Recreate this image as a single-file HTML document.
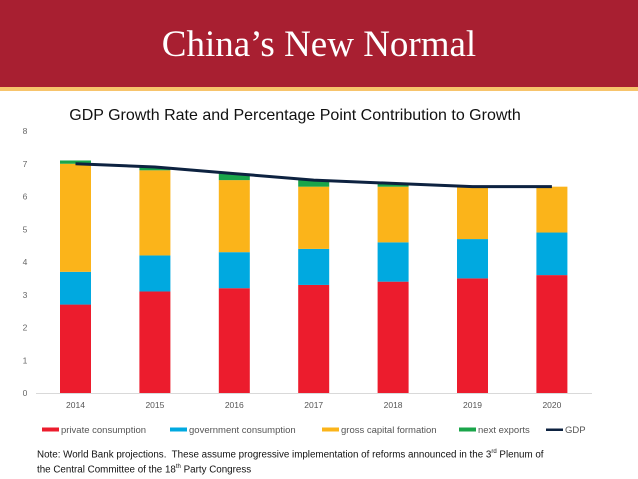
<!DOCTYPE html>
<html><head><meta charset="utf-8"><style>
body{margin:0;width:638px;height:479px;overflow:hidden;background:#fff;font-family:"Liberation Sans",sans-serif;position:relative}
#band{position:absolute;left:0;top:0;width:638px;height:87px;background:#a81f31}
#stripe{position:absolute;left:0;top:87px;width:638px;height:4px;background:#f7c46c}
#title{position:absolute;left:0;width:638px;top:23px;text-align:center;color:#fff;font-family:"Liberation Serif",serif;font-size:37px;line-height:44px}
#note{position:absolute;left:37px;top:446px;font-size:9.8px;color:#111;line-height:12px}
</style></head><body>
<div id="band"></div>
<div id="stripe"></div>
<div id="title">China’s New Normal</div>
<svg id="chart" width="638" height="479" style="position:absolute;left:0;top:0"></svg>
<div id="note">Note: World Bank projections.&nbsp; These assume progressive implementation of reforms announced in the 3<sup style="font-size:6px">rd</sup> Plenum of<br>the Central Committee of the 18<sup style="font-size:6px">th</sup> Party Congress</div>
<script>
const years=["2014","2015","2016","2017","2018","2019","2020"];
const privateC=[2.7,3.1,3.2,3.3,3.4,3.5,3.6];
const govC=[1.0,1.1,1.1,1.1,1.2,1.2,1.3];
const gcf=[3.3,2.6,2.2,1.9,1.7,1.6,1.4];
const netX=[0.1,0.1,0.2,0.2,0.1,0.0,0.0];
const gdp=[7.0,6.9,6.7,6.5,6.4,6.3,6.3];
const yTicks=[0,1,2,3,4,5,6,7,8];
const NS="http://www.w3.org/2000/svg";
const svg=document.getElementById('chart');
const y0=393,pxPer=32.75,xStart=75.5,xStep=79.4,bw=31;
const yS=v=>y0-v*pxPer, xS=i=>xStart+i*xStep;
function mk(t,a){const e=document.createElementNS(NS,t);for(const k in a)e.setAttribute(k,a[k]);svg.appendChild(e);return e;}
let t=mk('text',{x:295,y:120,'text-anchor':'middle','font-size':16,fill:'#111'});t.textContent="GDP Growth Rate and Percentage Point Contribution to Growth";


yTicks.forEach(v=>{const e=mk('text',{x:25,y:yS(v)+3,'font-size':8.5,fill:'#666','text-anchor':'middle'});e.textContent=v;

});
const ax=mk('line',{x1:36,x2:592,y1:y0+0.5,y2:y0+0.5,stroke:'#d9d9d9'});


const series=[[privateC,'#ec1c2d','private consumption'],[govC,'#00a9e0','government consumption'],[gcf,'#fbb41a','gross capital formation'],[netX,'#1aa54a','next exports']];
years.forEach((yr,i)=>{let base=0;
series.forEach(([arr,c,n])=>{const v=arr[i];if(v>0){const r=mk('rect',{x:xS(i)-bw/2,y:yS(base+v),width:bw,height:v*pxPer,fill:c});

}base+=v;});
const l=mk('text',{x:xS(i),y:408,'font-size':8.5,fill:'#555','text-anchor':'middle'});l.textContent=yr;

});
const p=mk('polyline',{points:gdp.map((v,i)=>xS(i)+','+yS(v)).join(' '),fill:'none',stroke:'#0d2240','stroke-width':3,'stroke-linejoin':'round'});


const leg=[[42,'#ec1c2d','private consumption','rect'],[170,'#00a9e0','government consumption','rect'],[322,'#fbb41a','gross capital formation','rect'],[459,'#1aa54a','next exports','rect'],[546,'#0d2240','GDP','line']];
leg.forEach(([x,c,n,k])=>{
const g=document.createElementNS(NS,'g');svg.appendChild(g);


const s=document.createElementNS(NS,'rect');
const w=17,h=k==='line'?2.5:4;
s.setAttribute('x',x);s.setAttribute('y',k==='line'?428.5:427.5);s.setAttribute('width',w);s.setAttribute('height',h);s.setAttribute('fill',c);g.appendChild(s);
const tx=document.createElementNS(NS,'text');tx.setAttribute('x',x+19);tx.setAttribute('y',433);tx.setAttribute('font-size',9.5);tx.setAttribute('fill','#555');tx.textContent=n;g.appendChild(tx);});
</script>
</body></html>
